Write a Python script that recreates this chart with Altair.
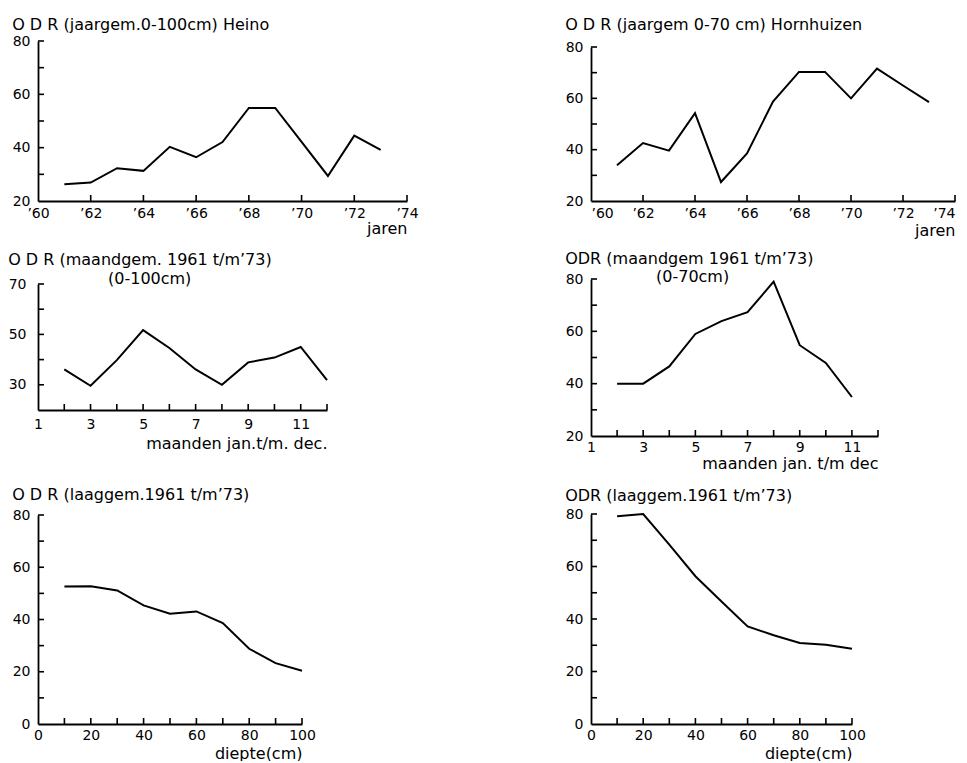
import altair as alt
import pandas as pd

FONT = "DejaVu Sans"

# ODR, yearly means 1961-1973
years = list(range(1961, 1974))
heino_year = [26.3, 26.9, 32.3, 31.3, 40.3, 36.4, 42.1, 54.9, 54.9, 42.2, 29.4, 44.5, 39.2]
horn_year = [33.9, 42.6, 39.6, 54.2, 27.4, 38.5, 58.7, 70.3, 70.3, 60.0, 71.6, 65.0, 58.5]

# ODR, monthly means 1961 t/m '73
heino_months = list(range(2, 13))
heino_month = [36.1, 29.6, 39.8, 51.7, 44.6, 36.1, 30.0, 38.9, 40.8, 45.0, 31.9]
horn_months = list(range(2, 12))
horn_month = [40.0, 40.0, 46.6, 59.0, 63.9, 67.3, 79.0, 54.7, 47.9, 34.9]

# ODR, layer means by depth (cm)
depths = [10, 20, 30, 40, 50, 60, 70, 80, 90, 100]
heino_depth = [52.6, 52.7, 51.1, 45.4, 42.2, 43.1, 38.6, 28.8, 23.3, 20.4]
horn_depth = [79.1, 80.0, 68.3, 56.3, 46.7, 37.2, 33.8, 30.9, 30.2, 28.7]

# axis labels and tick positions
year_labels = [1960, 1962, 1964, 1966, 1968, 1970, 1972, 1974]
month_labels = [1, 3, 5, 7, 9, 11]
month_ticks = list(range(2, 13))
depth_labels = [0, 20, 40, 60, 80, 100]
depth_ticks = [10, 20, 30, 40, 50, 60, 70, 80, 90, 100]
y20_80_labels = [20, 40, 60, 80]
y20_80_ticks = [30, 40, 50, 60, 70, 80]
y20_70_labels = [30, 50, 70]
y20_70_ticks = [30, 40, 50, 60, 70]
y0_80_labels = [0, 20, 40, 60, 80]
y0_80_ticks = [10, 20, 30, 40, 50, 60, 70, 80]

TICK = 6
TXT = 16


def panel(xs, ys, xdomain, xlabels, xticks, ydomain, ylabels, yticks,
          w, h, title, title_offset, xtitle, label_expr=None, flush=False,
          note=None, note_x=0, note_y=0, ylabel_pad=8, xlabel_pad=3,
          xtitle_pad=1, top_gap=0):
    df = pd.DataFrame({"x": xs, "y": ys})
    xaxis = dict(values=xlabels, title=xtitle, ticks=False,
                 labelPadding=xlabel_pad, titleAnchor="end",
                 titleAlign="right", titlePadding=xtitle_pad,
                 format="d", labelFlush=flush)
    if label_expr:
        xaxis["labelExpr"] = label_expr
    yscale = dict(domain=ydomain, nice=False, zero=False)
    if top_gap:
        yscale["range"] = [h, top_gap]
    line = alt.Chart(df).mark_line(color="black", strokeWidth=2).encode(
        x=alt.X("x:Q", scale=alt.Scale(domain=xdomain, nice=False, zero=False),
                axis=alt.Axis(**xaxis)),
        y=alt.Y("y:Q", scale=alt.Scale(**yscale),
                axis=alt.Axis(values=ylabels, title=None, ticks=False,
                              labelPadding=ylabel_pad)),
    )
    # inward tick marks along both axes
    xt = alt.Chart(pd.DataFrame({"x": xticks})).mark_rule(
        color="black", strokeWidth=1.6).encode(
        x=alt.X("x:Q", axis=None), y=alt.value(h), y2=alt.value(h - TICK))
    yt = alt.Chart(pd.DataFrame({"y": yticks})).mark_rule(
        color="black", strokeWidth=1.6).encode(
        y=alt.Y("y:Q", axis=None), x=alt.value(0), x2=alt.value(TICK))
    layers = [line, xt, yt]
    if note:
        layers.append(alt.Chart(pd.DataFrame({"t": [note]})).mark_text(
            align="left", baseline="middle", font=FONT, fontSize=TXT,
            color="black").encode(text="t:N", x=alt.value(note_x),
                                  y=alt.value(note_y)))
    return alt.layer(*layers).resolve_axis(
        x="independent", y="independent"
    ).properties(
        width=w, height=h,
        title=alt.TitleParams(title, anchor="start", frame="bounds",
                              fontSize=TXT, fontWeight="normal", font=FONT,
                              color="black", offset=title_offset),
    )


year_expr = '"\u2019" + substring(datum.label, 2)'

p1 = panel(years, heino_year, [1960, 1974], year_labels, year_labels[1:],
           [20, 80], y20_80_labels, y20_80_ticks, 369, 160,
           "O D R (jaargem.0-100cm)  Heino", 1, "jaren", label_expr=year_expr,
           xlabel_pad=5, xtitle_pad=0)
p2 = panel(years, horn_year, [1960, 1974], year_labels, year_labels[1:],
           [20, 80], y20_80_labels, y20_80_ticks, 364, 160,
           "O D R (jaargem 0-70 cm)  Hornhuizen", 7, "jaren",
           label_expr=year_expr, flush=True, xlabel_pad=5, xtitle_pad=2,
           top_gap=6)
p3 = panel(heino_months, heino_month, [1, 12], month_labels, month_ticks,
           [20, 70], y20_70_labels, y20_70_ticks, 289, 126,
           "O D R (maandgem. 1961 t/m\u201973)", 3, "maanden jan.t/m. dec.",
           note="(0-100cm)", note_x=70, note_y=-5, ylabel_pad=12,
           xlabel_pad=7, xtitle_pad=4)
p4 = panel(horn_months, horn_month, [1, 12], month_labels, month_ticks,
           [20, 80], y20_80_labels, y20_80_ticks, 287, 157,
           "ODR (maandgem 1961 t/m\u201973)", 2, "maanden jan. t/m dec",
           note="(0-70cm)", note_x=65, note_y=-2, xlabel_pad=4, xtitle_pad=1)
p5 = panel(depths, heino_depth, [0, 100], depth_labels, depth_ticks,
           [0, 80], y0_80_labels, y0_80_ticks, 264, 209,
           "O D R (laaggem.1961 t/m\u201973)", 5, "diepte(cm)",
           xlabel_pad=4, xtitle_pad=3)
p6 = panel(depths, horn_depth, [0, 100], depth_labels, depth_ticks,
           [0, 80], y0_80_labels, y0_80_ticks, 261, 210,
           "ODR (laaggem.1961 t/m\u201973)", 3, "diepte(cm)",
           xlabel_pad=4, xtitle_pad=3)

left = alt.vconcat(alt.vconcat(p1, p3, spacing=16), p5, spacing=36)
right = alt.vconcat(alt.vconcat(p2, p4, spacing=13), p6, spacing=17)

chart = alt.hconcat(left, right, spacing=146).properties(
    padding={"left": 8, "top": 17, "right": 0, "bottom": 0},
    background="white",
).configure_view(stroke=None).configure_axis(
    domainColor="black", domainWidth=1.8, grid=False,
    labelFont=FONT, labelFontSize=14, labelColor="black",
    titleFont=FONT, titleFontSize=TXT, titleFontWeight="normal",
    titleColor="black",
)

chart.save("out.html", embed_options={"renderer": "svg", "actions": False})
